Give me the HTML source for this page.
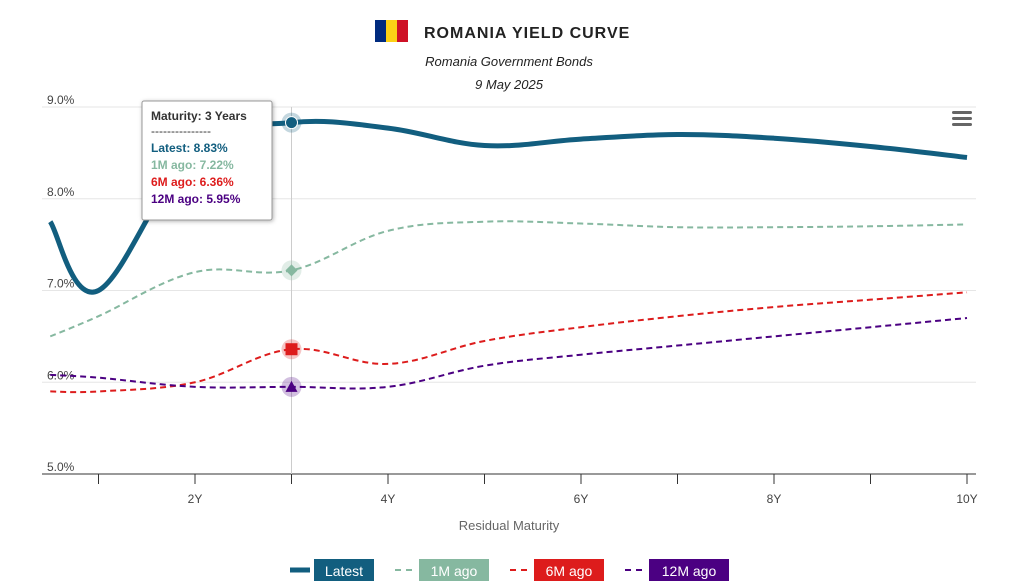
<!DOCTYPE html>
<html><head><meta charset="utf-8"><style>
body{margin:0;background:#fff;font-family:"Liberation Sans",sans-serif}
svg text{font-family:"Liberation Sans",sans-serif}
</style></head><body>
<svg id="c" width="1017" height="583">
<g>
<rect x="375" y="20" width="11" height="22" fill="#002b7f"/><rect x="386" y="20" width="11" height="22" fill="#fcd116"/><rect x="397" y="20" width="11" height="22" fill="#ce1126"/>
<text x="424" y="38" font-size="16" font-weight="bold" fill="#222" letter-spacing="1">ROMANIA YIELD CURVE</text>
<text x="509" y="66" font-size="13" font-style="italic" text-anchor="middle" fill="#222">Romania Government Bonds</text>
<text x="509" y="89" font-size="13" font-style="italic" text-anchor="middle" fill="#222">9 May 2025</text>
</g>
<g id="grid"></g><g id="series"></g><g id="markers"></g>
<g><rect x="952" y="111" width="20" height="3" rx="1.5" fill="#666"/><rect x="952" y="117" width="20" height="3" rx="1.5" fill="#666"/><rect x="952" y="123" width="20" height="3" rx="1.5" fill="#666"/></g>
<text x="509" y="530" font-size="13" fill="#666" text-anchor="middle">Residual Maturity</text>
<g id="tooltip">
<rect x="142" y="101" width="130" height="119" fill="#fff" stroke="#999" rx="2" style="filter:drop-shadow(1px 1px 2px rgba(0,0,0,.3))"/>
<text x="151" y="120" font-size="12" font-weight="bold" fill="#333">Maturity: 3 Years</text>
<text x="151" y="135" font-size="12" fill="#333">---------------</text>
<text x="151" y="152" font-size="12" font-weight="bold" fill="#125e7f">Latest: 8.83%</text>
<text x="151" y="169" font-size="12" font-weight="bold" fill="#86b8a0">1M ago: 7.22%</text>
<text x="151" y="186" font-size="12" font-weight="bold" fill="#dd1c1c">6M ago: 6.36%</text>
<text x="151" y="203" font-size="12" font-weight="bold" fill="#4b0082">12M ago: 5.95%</text>
</g>
<g id="legend"></g>
</svg>
<script>
const maturities=[0.5,1,2,3,4,5,6,7,8,9,10];
const latest=[7.75,7.0,8.55,8.83,8.77,8.58,8.65,8.7,8.66,8.57,8.45];
const m1=[6.5,6.72,7.2,7.22,7.65,7.75,7.73,7.69,7.69,7.7,7.72];
const m6=[5.9,5.9,6.0,6.36,6.2,6.45,6.6,6.72,6.82,6.9,6.98];
const m12=[6.08,6.05,5.95,5.95,5.95,6.18,6.3,6.4,6.5,6.6,6.7];
const yTicks=[5,6,7,8,9];
const xTicks=[1,2,3,4,5,6,7,8,9,10];
const hoverIndex=3;
const NS="http://www.w3.org/2000/svg";
const X=v=>2+96.5*v, Y=v=>474-(v-5)*91.75;
function el(t,a,p){const e=document.createElementNS(NS,t);for(const k in a)e.setAttribute(k,a[k]);document.getElementById(p).appendChild(e);return e;}
yTicks.forEach(t=>{const g=el('line',{x1:42,x2:976,y1:Y(t),y2:Y(t),stroke:t==5?'#ccc':'#e6e6e6'},'grid');
const tx=el('text',{x:47,y:Y(t)-3,'font-size':12,fill:'#444'},'grid');tx.textContent=t.toFixed(1)+'%';});
const ax=el('line',{x1:42,x2:976,y1:474,y2:474,stroke:'#333'},'grid');
xTicks.forEach(t=>{const l=el('line',{x1:X(t),x2:X(t),y1:474,y2:484,stroke:'#333'},'grid');
if(t%2==0){const tx=el('text',{x:X(t),y:503,'font-size':12,fill:'#444','text-anchor':'middle'},'grid');tx.textContent=t+'Y';}});
const hl=el('line',{x1:X(maturities[hoverIndex]),x2:X(maturities[hoverIndex]),y1:107,y2:474,stroke:'#ccc'},'grid');
function path(vals){const p=vals.map((v,i)=>[X(maturities[i]),Y(v)]);let d='M'+p[0];for(let i=0;i<p.length-1;i++){const a=p[i-1]||p[i],b=p[i],c=p[i+1],e=p[i+2]||c;const t=0.18;
d+=' C'+(b[0]+(c[0]-a[0])*t)+','+(b[1]+(c[1]-a[1])*t)+' '+(c[0]-(e[0]-b[0])*t)+','+(c[1]-(e[1]-b[1])*t)+' '+c;}return d;}
const S=[{n:'Latest',v:latest,c:'#125e7f',w:5,d:''},{n:'1M ago',v:m1,c:'#86b8a0',w:2,d:'6,4'},{n:'6M ago',v:m6,c:'#dd1c1c',w:2,d:'6,4'},{n:'12M ago',v:m12,c:'#4b0082',w:2,d:'6,4'}];
S.forEach((s,k)=>{const p=el('path',{d:path(s.v),fill:'none',stroke:s.c,'stroke-width':s.w,'stroke-dasharray':s.d},'series');
const cx=X(maturities[hoverIndex]),cy=Y(s.v[hoverIndex]);const h=el('circle',{cx:cx,cy:cy,r:10,fill:s.c,opacity:0.25},'markers');
let m;if(k==0)m=el('circle',{cx:cx,cy:cy,r:6,fill:s.c,stroke:'#fff','stroke-width':1},'markers');
else if(k==1)m=el('path',{d:`M${cx},${cy-6}L${cx+6},${cy}L${cx},${cy+6}L${cx-6},${cy}Z`,fill:s.c},'markers');
else if(k==2)m=el('rect',{x:cx-6,y:cy-6,width:12,height:12,fill:s.c},'markers');
else m=el('path',{d:`M${cx},${cy-6}L${cx+6},${cy+5}L${cx-6},${cy+5}Z`,fill:s.c},'markers');

const lx=[290,395,510,625][k],wd=[60,70,70,80][k];
const ll=el('line',{x1:lx,x2:lx+20,y1:570,y2:570,stroke:s.c,'stroke-width':k==0?5:2,'stroke-dasharray':k==0?'':'6,5'},'legend');
const r=el('rect',{x:lx+24,y:559,width:wd,height:22,fill:s.c},'legend');
const t=el('text',{x:lx+24+wd/2,y:576,'font-size':14,fill:'#fff','text-anchor':'middle'},'legend');t.textContent=s.n;});
</script>
</body></html>
